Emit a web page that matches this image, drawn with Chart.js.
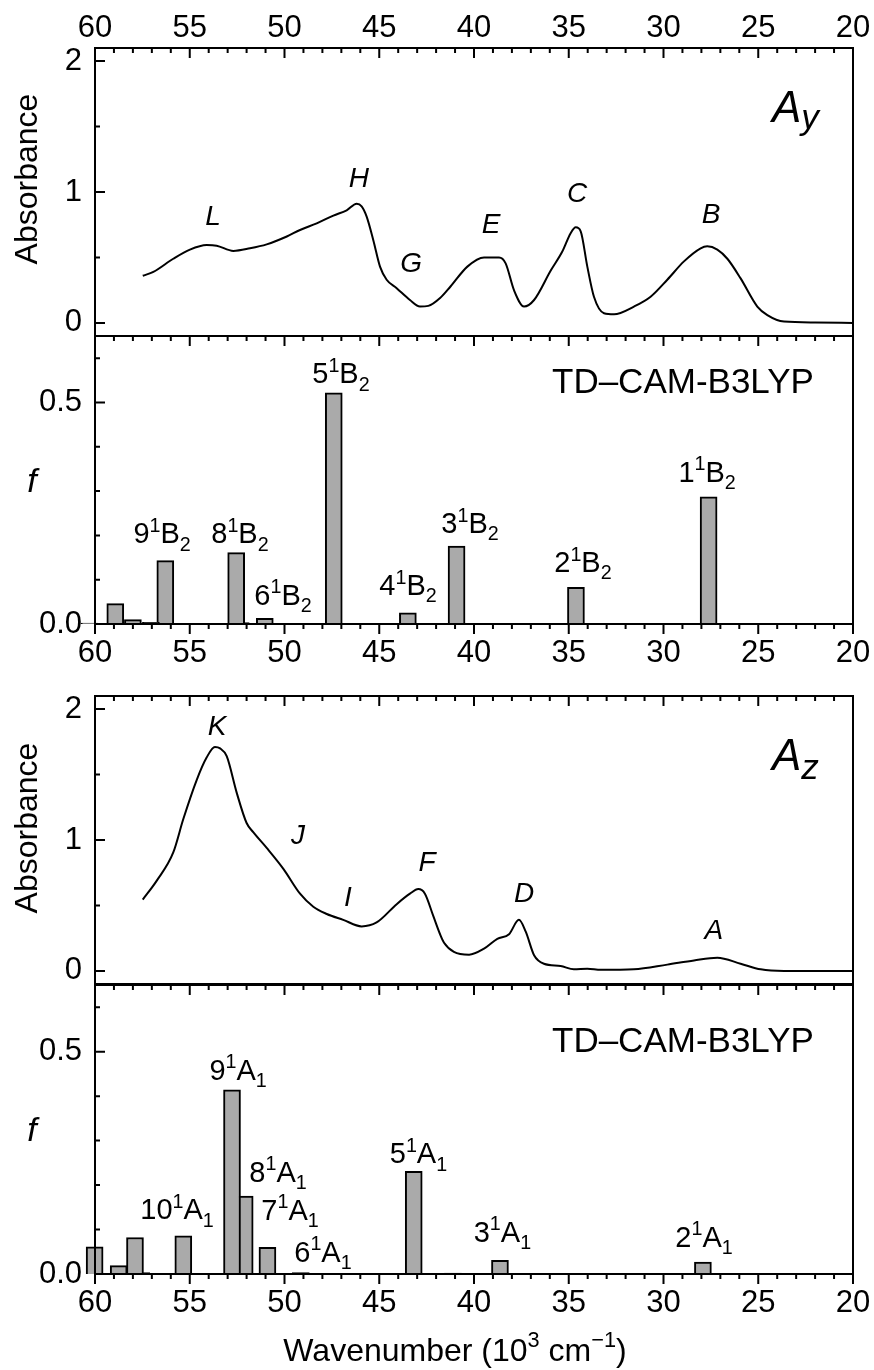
<!DOCTYPE html>
<html>
<head>
<meta charset="utf-8">
<script src="https://cdn.jsdelivr.net/npm/chart.js@4.4.1/dist/chart.umd.min.js"></script>
<style>
  html, body { margin: 0; padding: 0; background: #fff; }
  #wrap { position: relative; width: 874px; height: 1370px; }
  #wrap canvas { position: absolute; left: 0; top: 0; }
</style>
</head>
<body>
<div id="wrap">
  <canvas id="c1" width="874" height="1370"></canvas>
  <canvas id="c2" width="874" height="1370"></canvas>
  <canvas id="c3" width="874" height="1370"></canvas>
  <canvas id="c4" width="874" height="1370"></canvas>
</div>
<script>
// measured absorbance, A_y polarisation (wavenumber in 10^3 cm-1)
const ayWn  = [57.48, 56.92, 55.87, 54.99, 54.11, 53.58, 52.70, 51.82, 50.94, 49.88, 49.18, 48.30, 47.42, 46.72, 46.19, 45.93, 45.66, 45.31, 44.96, 44.61, 44.08, 43.38, 42.85, 42.41, 41.79, 41.23, 40.35, 39.47, 38.68, 38.33, 37.89, 37.36, 36.83, 35.95, 35.34, 34.90, 34.63, 34.37, 34.02, 33.67, 33.14, 32.61, 31.56, 30.68, 29.80, 28.92, 28.04, 27.69, 27.16, 26.63, 25.93, 25.05, 24.52, 23.64, 22.0, 20.0];
const ayAbs = [0.36, 0.39, 0.49, 0.56, 0.595, 0.59, 0.55, 0.57, 0.60, 0.66, 0.71, 0.76, 0.82, 0.86, 0.91, 0.89, 0.81, 0.63, 0.43, 0.33, 0.265, 0.175, 0.125, 0.13, 0.19, 0.28, 0.43, 0.50, 0.50, 0.455, 0.25, 0.125, 0.175, 0.40, 0.545, 0.685, 0.73, 0.70, 0.43, 0.20, 0.074, 0.066, 0.125, 0.20, 0.33, 0.47, 0.57, 0.585, 0.56, 0.49, 0.34, 0.125, 0.06, 0.01, 0.003, 0.0];

// measured absorbance, A_z polarisation
const azWn  = [57.48, 56.74, 55.87, 55.34, 54.63, 54.11, 53.67, 53.40, 53.05, 52.52, 52.00, 51.65, 50.94, 50.06, 49.18, 48.48, 47.77, 46.90, 45.93, 45.14, 44.08, 43.38, 42.94, 42.59, 42.15, 41.79, 41.58, 41.06, 40.26, 39.47, 38.77, 38.15, 37.63, 37.27, 36.83, 36.31, 35.43, 34.73, 34.02, 33.31, 31.56, 29.80, 28.39, 27.16, 25.93, 24.87, 23.64, 20.0];
const azAbs = [0.545, 0.69, 0.905, 1.16, 1.46, 1.63, 1.71, 1.70, 1.64, 1.36, 1.13, 1.06, 0.94, 0.78, 0.59, 0.49, 0.435, 0.39, 0.34, 0.37, 0.51, 0.59, 0.625, 0.59, 0.42, 0.28, 0.215, 0.145, 0.124, 0.17, 0.245, 0.28, 0.39, 0.30, 0.12, 0.055, 0.038, 0.012, 0.017, 0.008, 0.012, 0.048, 0.08, 0.10, 0.055, 0.012, 0.0, 0.0];

// TD-CAM-B3LYP oscillator strengths, B2 states
const b2Wn = [27.62, 34.62, 40.92, 43.49, 47.40, 51.04, 52.31, 52.55, 56.29, 57.05, 58.0, 58.93, 60.3];
const b2F  = [0.287, 0.083, 0.176, 0.025, 0.522, 0.013, 0.003, 0.161, 0.143, 0.004, 0.01, 0.046, 0.002];

// TD-CAM-B3LYP oscillator strengths, A1 states
const a1Wn = [27.92, 38.63, 41.11, 43.18, 49.14, 50.90, 52.10, 52.77, 55.34, 57.56, 57.89, 58.75, 60.02];
const a1F  = [0.027, 0.031, 0.002, 0.231, 0.003, 0.060, 0.175, 0.414, 0.086, 0.003, 0.082, 0.019, 0.061];

// band letters
const ayPeakNames = ['L', 'H', 'G', 'E', 'C', 'B'];
const ayPeakWn    = [53.77, 46.07, 43.32, 39.10, 34.56, 27.49];
const ayPeakAbs   = [0.748, 1.038, 0.389, 0.687, 0.924, 0.763];
const azPeakNames = ['K', 'J', 'I', 'F', 'D', 'A'];
const azPeakWn    = [53.56, 49.29, 46.65, 42.48, 37.36, 27.34];
const azPeakAbs   = [1.805, 0.968, 0.497, 0.763, 0.527, 0.246];

// state labels
const b2Labels   = ['9^1B_2', '8^1B_2', '6^1B_2', '5^1B_2', '4^1B_2', '3^1B_2', '2^1B_2', '1^1B_2'];
const b2LabelWn  = [56.46, 52.35, 50.08, 47.02, 43.48, 40.21, 34.25, 27.70];
const b2LabelF   = [0.182, 0.182, 0.043, 0.543, 0.065, 0.205, 0.117, 0.321];
const a1Labels   = ['10^1A_1', '9^1A_1', '8^1A_1', '7^1A_1', '6^1A_1', '5^1A_1', '3^1A_1', '2^1A_1'];
const a1LabelWn  = [55.67, 52.45, 50.34, 49.71, 47.97, 42.93, 38.50, 27.86];
const a1LabelF   = [0.123, 0.437, 0.208, 0.122, 0.028, 0.249, 0.073, 0.061];

const FONT = '"Liberation Sans", Arial, sans-serif';
Chart.defaults.font.family = FONT;
Chart.defaults.color = '#000';

function parseRich(str) {
  const segs = [];
  const re = /\^\{([^}]*)\}|_\{([^}]*)\}|\^(.)|_(.)|([^^_]+)/g;
  let m;
  while ((m = re.exec(str))) {
    if (m[1] !== undefined) segs.push({ t: m[1], k: 'sup' });
    else if (m[2] !== undefined) segs.push({ t: m[2], k: 'sub' });
    else if (m[3] !== undefined) segs.push({ t: m[3], k: 'sup' });
    else if (m[4] !== undefined) segs.push({ t: m[4], k: 'sub' });
    else segs.push({ t: m[5], k: 'n' });
  }
  return segs;
}

function drawRich(ctx, str, x, y, size, opt) {
  opt = opt || {};
  const style = opt.italic ? 'italic ' : '';
  const small = size * (opt.scale || 0.68);
  const segs = parseRich(str);
  const fontFor = k => style + (k === 'n' ? size : small) + 'px ' + FONT;
  let w = 0;
  segs.forEach(s => { ctx.font = fontFor(s.k); s.w = ctx.measureText(s.t).width; w += s.w; });
  let cx = opt.align === 'left' ? x : opt.align === 'right' ? x - w : x - w / 2;
  ctx.textAlign = 'left';
  ctx.textBaseline = 'alphabetic';
  segs.forEach(s => {
    ctx.font = fontFor(s.k);
    const dy = s.k === 'sup' ? -size * (opt.rise || 0.4) : s.k === 'sub' ? size * (opt.drop || 0.25) : 0;
    ctx.fillText(s.t, cx, y + dy);
    cx += s.w;
  });
}

// box + inward ticks (outward on bottom axes), like the original plot
const frameTicks = {
  id: 'frameTicks',
  afterDatasetsDraw(chart, args, opts) {
    const { ctx, chartArea: a, scales: { x, y } } = chart;
    ctx.save();
    ctx.strokeStyle = '#000';
    ctx.lineWidth = 2;
    ctx.strokeRect(a.left, a.top, a.right - a.left, a.bottom - a.top);
    ctx.beginPath();
    for (let v = Math.ceil(x.min); v <= x.max; v++) {
      const px = x.getPixelForValue(v);
      const len = v % 5 === 0 ? 10 : 5;
      if (opts.top) { ctx.moveTo(px, a.top); ctx.lineTo(px, a.top + len); }
      if (opts.bottom) { ctx.moveTo(px, a.bottom); ctx.lineTo(px, a.bottom + len); }
    }
    const n = Math.round(opts.yMajor / opts.yMinor);
    for (let i = 0; i * opts.yMinor <= y.max + 1e-9; i++) {
      const py = y.getPixelForValue(i * opts.yMinor);
      const len = i % n === 0 ? 10 : 5;
      ctx.moveTo(a.left, py); ctx.lineTo(a.left + len, py);
    }
    ctx.stroke();
    ctx.restore();
  }
};

// letters, state labels, titles
const textLayer = {
  id: 'textLayer',
  afterDraw(chart, args, opts) {
    const { ctx, scales: { x, y } } = chart;
    ctx.save();
    ctx.fillStyle = '#000';
    (opts.anchored || []).forEach(set => {
      set.text.forEach((t, i) => {
        drawRich(ctx, t, x.getPixelForValue(set.x[i]), y.getPixelForValue(set.y[i]), set.size, { italic: set.italic });
      });
    });
    (opts.fixed || []).forEach(f => {
      ctx.save();
      ctx.translate(f.x, f.y);
      if (f.rotate) ctx.rotate(f.rotate);
      drawRich(ctx, f.text, 0, 0, f.size, f);
      ctx.restore();
    });
    ctx.restore();
  }
};

function xScale(position, show, height, pad) {
  return {
    type: 'linear', position: position, min: 20, max: 60, reverse: true, offset: false,
    display: show,
    grid: { display: false, drawTicks: false }, border: { display: false },
    ticks: { stepSize: 5, padding: pad, font: { size: 31 }, maxRotation: 0 },
    afterFit(s) { s.height = height; s.paddingLeft = 0; s.paddingRight = 0; }
  };
}

function yScale(min, max, step, digits) {
  return {
    min: min, max: max,
    grid: { display: false, drawTicks: false }, border: { display: false },
    ticks: { stepSize: step, includeBounds: false, padding: 13, font: { size: 31 },
      callback: v => v.toFixed(digits) },
    afterFit(s) { s.width = 95; s.paddingTop = 0; s.paddingBottom = 0; }
  };
}

function baseOptions(pad) {
  return {
    responsive: false, animation: false, events: [],
    layout: { padding: { left: 0, right: 21, top: pad.top, bottom: pad.bottom } },
    plugins: { legend: { display: false }, tooltip: { enabled: false } }
  };
}

function lineChart(id, wn, abs, pad, showX, peaks, corner, title) {
  const opts = baseOptions(pad);
  opts.scales = { x: xScale('top', showX, showX ? 48 : 0, 1), y: yScale(-0.1, 2.1, 1, 0) };
  opts.plugins.frameTicks = { top: true, bottom: false, yMajor: 1, yMinor: 0.5 };
  opts.plugins.textLayer = { anchored: [peaks], fixed: [corner, title] };
  new Chart(document.getElementById(id), {
    type: 'line',
    data: { datasets: [{
      data: wn.map((w, i) => ({ x: w, y: abs[i] })),
      borderColor: '#000', borderWidth: 2, pointRadius: 0, fill: false,
      cubicInterpolationMode: 'monotone'
    }] },
    options: opts,
    plugins: [frameTicks, textLayer]
  });
}

function barChart(id, wn, f, pad, labels, fixed) {
  const opts = baseOptions(pad);
  opts.scales = { x: xScale('bottom', true, 50, 11), y: yScale(0, 0.65, 0.5, 1) };
  opts.plugins.frameTicks = { top: true, bottom: true, yMajor: 0.5, yMinor: 0.1 };
  opts.plugins.textLayer = { anchored: [labels], fixed: fixed };
  new Chart(document.getElementById(id), {
    type: 'bar',
    data: { datasets: [{
      data: wn.map((w, i) => ({ x: w, y: f[i] })),
      backgroundColor: '#aaaaaa', borderColor: '#000', borderWidth: 2,
      barThickness: 17, clip: false
    }] },
    options: opts,
    plugins: [frameTicks, textLayer]
  });
}

const tdLabel = 'TD\u2013CAM-B3LYP';

lineChart('c1', ayWn, ayAbs, { top: 0, bottom: 1034 }, true,
  { text: ayPeakNames, x: ayPeakWn, y: ayPeakAbs, size: 28, italic: true },
  { text: 'A_y', x: 772, y: 122, size: 44, italic: true, align: 'left', scale: 0.8, drop: 0.16 },
  { text: 'Absorbance', x: 37, y: 179, size: 32, rotate: -Math.PI / 2 });

barChart('c2', b2Wn, b2F, { top: 336, bottom: 696 },
  { text: b2Labels, x: b2LabelWn, y: b2LabelF, size: 29 },
  [{ text: tdLabel, x: 552, y: 393, size: 35, align: 'left' },
   { text: 'f', x: 32, y: 492, size: 34, italic: true }]);

lineChart('c3', azWn, azAbs, { top: 696, bottom: 386 }, false,
  { text: azPeakNames, x: azPeakWn, y: azPeakAbs, size: 28, italic: true },
  { text: 'A_z', x: 772, y: 770, size: 44, italic: true, align: 'left', scale: 0.8, drop: 0.2 },
  { text: 'Absorbance', x: 37, y: 828, size: 32, rotate: -Math.PI / 2 });

barChart('c4', a1Wn, a1F, { top: 985, bottom: 46 },
  { text: a1Labels, x: a1LabelWn, y: a1LabelF, size: 29 },
  [{ text: tdLabel, x: 552, y: 1052, size: 35, align: 'left' },
   { text: 'f', x: 32, y: 1141, size: 34, italic: true },
   { text: 'Wavenumber (10^3 cm^{\u22121})', x: 455, y: 1361, size: 32, rise: 0.45 }]);
</script>
</body>
</html>
